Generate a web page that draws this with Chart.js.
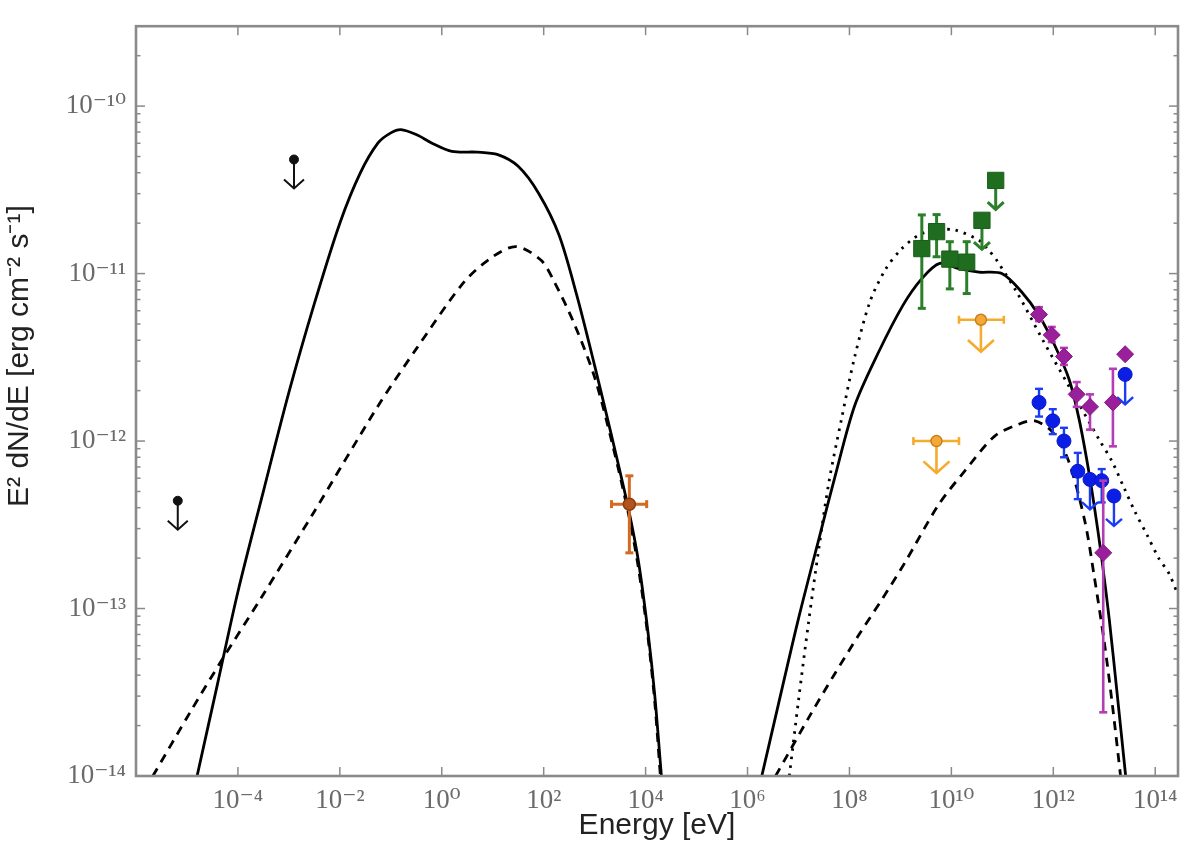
<!DOCTYPE html>
<html>
<head>
<meta charset="utf-8">
<script src="https://cdn.jsdelivr.net/npm/chart.js@4.4.0/dist/chart.umd.min.js"></script>
<style>
  html, body { margin: 0; padding: 0; background: #fff; }
  #wrap { width: 1200px; height: 854px; }
</style>
</head>
<body>
<div id="wrap"><canvas id="sed"></canvas></div>
<script>
// axis ticks
const xTickVals = [1e-4, 1e-2, 1e0, 1e2, 1e4, 1e6, 1e8, 1e10, 1e12, 1e14];
const xTickLabels = ['10⁻⁴', '10⁻²', '10⁰', '10²', '10⁴', '10⁶', '10⁸', '10¹⁰', '10¹²', '10¹⁴'];
const yTickVals = [1e-14, 1e-13, 1e-12, 1e-11, 1e-10];
const yTickLabels = ['10⁻¹⁴', '10⁻¹³', '10⁻¹²', '10⁻¹¹', '10⁻¹⁰'];

// model curves (energy in eV, E^2 dN/dE in erg cm^-2 s^-1)
const syncTotE = [1.58e-5, 3.98e-5, 1e-4, 3.16e-4, 1e-3, 3.16e-3, 1e-2, 2.51e-2, 5.62e-2, 0.1, 0.158, 0.316, 0.631, 1.585, 5.01, 12.6, 31.6, 79.4, 200, 447, 1000, 2239, 4571, 7244, 11220, 15140, 20420];
const syncTotF = [1e-14, 3.55e-14, 1.26e-13, 5.01e-13, 1.95e-12, 6.61e-12, 2.0e-11, 3.98e-11, 6.03e-11, 6.92e-11, 7.24e-11, 6.76e-11, 6.03e-11, 5.37e-11, 5.31e-11, 5.13e-11, 4.37e-11, 3.02e-11, 1.70e-11, 7.41e-12, 2.82e-12, 1.02e-12, 3.98e-13, 1.91e-13, 7.08e-14, 3.02e-14, 1e-14];

const syncDashE = [2.14e-6, 1.2e-5, 5.01e-5, 2.82e-4, 3.16e-3, 5.62e-2, 0.316, 2.75, 10, 28.8, 89.1, 162, 398, 1000, 2239, 4571, 7244, 11220, 15140, 19500];
const syncDashF = [1e-14, 2.45e-14, 5.01e-14, 1.15e-13, 3.8e-13, 1.62e-12, 3.55e-12, 8.91e-12, 1.26e-11, 1.45e-11, 1.2e-11, 8.91e-12, 5.01e-12, 2.4e-12, 9.55e-13, 3.72e-13, 1.74e-13, 6.61e-14, 2.75e-14, 1e-14];

const gammaTotE = [1.905e6, 3.98e6, 1e7, 2.69e7, 5.13e7, 1.26e8, 3.72e8, 1.12e9, 2.63e9, 5.89e9, 1.41e10, 3.47e10, 9.77e10, 2.4e11, 5.25e11, 1.07e12, 2.04e12, 3.16e12, 4.47e12, 6.31e12, 8.91e12, 1.26e13, 1.78e13, 2.63e13];
const gammaTotF = [1e-14, 2.63e-14, 8.71e-14, 2.82e-13, 6.03e-13, 1.62e-12, 3.39e-12, 6.46e-12, 9.33e-12, 1.15e-11, 1.07e-11, 1.02e-11, 1.0e-11, 7.76e-12, 5.62e-12, 3.72e-12, 2.34e-12, 1.38e-12, 7.94e-13, 4.17e-13, 2.0e-13, 8.51e-14, 3.16e-14, 1e-14];

const gammaDotE = [6.61e6, 1e7, 1.58e7, 2.51e7, 3.98e7, 7.08e7, 1.26e8, 2.51e8, 5.01e8, 1e9, 2.29e9, 5.01e9, 1.17e10, 3.47e10, 5.37e10, 7.76e10, 2.0e11, 6.31e11, 2.0e12, 7.94e12, 1.41e13, 2.45e13, 3.98e13, 6.92e13, 1.17e14, 1.86e14, 2.82e14];
const gammaDotF = [1e-14, 2.82e-14, 8.32e-14, 2.29e-13, 5.75e-13, 1.38e-12, 3.16e-12, 6.76e-12, 1.05e-11, 1.38e-11, 1.7e-11, 1.82e-11, 1.82e-11, 1.58e-11, 1.38e-11, 1.2e-11, 7.59e-12, 3.98e-12, 2.14e-12, 1.02e-12, 7.59e-13, 5.25e-13, 3.8e-13, 2.75e-13, 2.0e-13, 1.62e-13, 1.2e-13];

const gammaDashE = [3.55e6, 1.74e7, 5.13e7, 1.51e8, 4.47e8, 1.2e9, 5.62e9, 1.82e10, 7.08e10, 2.09e11, 4.37e11, 1e12, 2e12, 4.17e12, 6.31e12, 1e13, 1.41e13, 2.09e13];
const gammaDashF = [1e-14, 2.34e-14, 4.07e-14, 6.92e-14, 1.15e-13, 1.86e-13, 4.17e-13, 6.61e-13, 1.07e-12, 1.26e-12, 1.32e-12, 1.12e-12, 7.59e-13, 3.31e-13, 1.58e-13, 6.31e-14, 2.82e-14, 1e-14];

// measurements
const radioE = [6.6e-6, 1.26e-3];
const radioF = [4.4e-13, 4.8e-11];

const xrayE = [4.8e3];
const xrayF = [4.2e-13];
const xrayELo = [2.14e3];
const xrayEHi = [1.05e4];
const xrayFLo = [2.15e-13];
const xrayFHi = [6.2e-13];

const ulE = [5.1e9, 3.8e10];
const ulF = [1.0e-12, 5.3e-12];
const ulELo = [1.8e9, 1.41e10];
const ulEHi = [1.41e10, 1.07e11];

const fermiE = [2.63e9, 5.13e9, 9.33e9, 2.0e10, 3.98e10, 7.41e10];
const fermiF = [1.41e-11, 1.78e-11, 1.22e-11, 1.17e-11, 2.08e-11, 3.6e-11];
const fermiFLo = [6.2e-12, 1.26e-11, 8.1e-12, 7.6e-12, null, null];
const fermiFHi = [2.24e-11, 2.25e-11, 1.55e-11, 1.55e-11, null, null];
const fermiUL = [false, false, false, false, true, true];

const hessE = [5.25e11, 9.33e11, 1.62e12, 2.88e12, 5.25e12, 9.55e12, 1.48e13, 2.57e13];
const hessF = [5.7e-12, 4.3e-12, 3.2e-12, 1.9e-12, 1.6e-12, 2.15e-13, 1.7e-12, 3.3e-12];
const hessFLo = [5.2e-12, 3.9e-12, 2.85e-12, 1.6e-12, 1.17e-12, 2.4e-14, 9.3e-13, null];
const hessFHi = [6.3e-12, 4.8e-12, 3.6e-12, 2.25e-12, 1.9e-12, 5.8e-13, 2.7e-12, null];

const veritasE = [5.25e11, 9.77e11, 1.62e12, 3.02e12, 5.25e12, 8.91e12, 1.55e13, 2.57e13];
const veritasF = [1.7e-12, 1.32e-12, 1.0e-12, 6.6e-13, 5.9e-13, 5.8e-13, 4.7e-13, 2.5e-12];
const veritasFLo = [1.4e-12, 1.1e-12, 8.0e-13, 4.5e-13, null, 4.3e-13, null, null];
const veritasFHi = [2.05e-12, 1.55e-12, 1.2e-12, 8.5e-13, null, 6.8e-13, null, null];
const veritasUL = [false, false, false, false, true, false, true, true];

const pts = (xs, ys) => xs.map((x, i) => ({ x: x, y: ys[i] }));

function curve(xs, ys, dash) {
  return {
    type: 'line',
    data: pts(xs, ys),
    borderColor: '#000',
    borderWidth: 2.8,
    borderDash: dash,
    borderCapStyle: 'butt',
    pointRadius: 0,
    tension: 0.3,
    fill: false,
    order: 2
  };
}

// error bars and upper-limit arrows, drawn just under each dataset's markers
const errorBars = {
  id: 'errorBars',
  beforeDatasetDraw(chart, args) {
    const ds = chart.data.datasets[args.index];
    const e = ds.err;
    if (!e) return;
    const ctx = chart.ctx;
    const xs = chart.scales.x, ys = chart.scales.y;
    ctx.save();
    ctx.strokeStyle = e.color;
    ctx.lineWidth = e.width;
    ctx.lineCap = 'butt';
    const seg = (x1, y1, x2, y2) => { ctx.beginPath(); ctx.moveTo(x1, y1); ctx.lineTo(x2, y2); ctx.stroke(); };
    ds.data.forEach((p, i) => {
      const px = xs.getPixelForValue(p.x), py = ys.getPixelForValue(p.y);
      if (e.yLo && e.yLo[i] != null) {
        const a = ys.getPixelForValue(e.yLo[i]), b = ys.getPixelForValue(e.yHi[i]);
        seg(px, a, px, b);
        seg(px - e.cap, a, px + e.cap, a);
        seg(px - e.cap, b, px + e.cap, b);
      }
      if (e.xLo && e.xLo[i] != null) {
        const a = xs.getPixelForValue(e.xLo[i]), b = xs.getPixelForValue(e.xHi[i]);
        seg(a, py, b, py);
        seg(a, py - e.cap, a, py + e.cap);
        seg(b, py - e.cap, b, py + e.cap);
      }
      if (e.ul === true || (e.ul && e.ul[i])) {
        const tip = py + e.len;
        seg(px, py, px, tip);
        ctx.beginPath();
        ctx.moveTo(px - e.head, tip - e.head * 0.9);
        ctx.lineTo(px, tip);
        ctx.lineTo(px + e.head, tip - e.head * 0.9);
        ctx.stroke();
      }
    });
    ctx.restore();
  }
};

// matplotlib-like frame with inward ticks on all four sides
const frameTicks = {
  id: 'frameTicks',
  afterDraw(chart) {
    const ctx = chart.ctx, a = chart.chartArea;
    const xs = chart.scales.x, ys = chart.scales.y;
    ctx.save();
    ctx.strokeStyle = '#8a8a8a';
    ctx.lineWidth = 1.5;
    const seg = (x1, y1, x2, y2) => { ctx.beginPath(); ctx.moveTo(x1, y1); ctx.lineTo(x2, y2); ctx.stroke(); };
    xTickVals.forEach(v => {
      const px = xs.getPixelForValue(v);
      seg(px, a.bottom, px, a.bottom - 9);
      seg(px, a.top, px, a.top + 9);
    });
    for (let d = -14; d <= -10; d++) {
      for (let m = 1; m <= 9; m++) {
        const v = m * Math.pow(10, d);
        if (v > ys.max) break;
        const py = ys.getPixelForValue(v);
        const len = m === 1 ? 9 : 4.5;
        seg(a.left, py, a.left + len, py);
        seg(a.right, py, a.right - len, py);
      }
    }
    ctx.lineWidth = 2.6;
    ctx.strokeRect(a.left, a.top, a.right - a.left, a.bottom - a.top);
    ctx.restore();
  }
};

const tickFont = { family: '"Liberation Serif", "DejaVu Serif", serif', size: 27 };
const titleFont = { family: '"Liberation Sans", Arial, sans-serif', size: 30 };

new Chart(document.getElementById('sed'), {
  type: 'scatter',
  data: {
    datasets: [
      {
        data: pts(radioE, radioF),
        pointStyle: 'circle', pointRadius: 4.5,
        backgroundColor: '#111', borderColor: '#111', borderWidth: 1,
        err: { color: '#111', width: 2, cap: 0, ul: true, len: 29, head: 10 },
        order: 0
      },
      {
        data: pts(xrayE, xrayF),
        pointStyle: 'circle', pointRadius: 6,
        backgroundColor: '#b4521c', borderColor: '#8c3c12', borderWidth: 1.5,
        err: { color: '#d26a22', width: 3, cap: 4, xLo: xrayELo, xHi: xrayEHi, yLo: xrayFLo, yHi: xrayFHi },
        order: 0
      },
      {
        data: pts(ulE, ulF),
        pointStyle: 'circle', pointRadius: 5.5,
        backgroundColor: '#f2a83a', borderColor: '#c98018', borderWidth: 1.5,
        err: { color: '#f5ab2e', width: 2.6, cap: 4, xLo: ulELo, xHi: ulEHi, ul: true, len: 32, head: 13 },
        order: 0
      },
      {
        data: pts(fermiE, fermiF),
        pointStyle: 'rect', pointRadius: 11.5,
        backgroundColor: '#1f6e1f', borderColor: '#1a5e1a', borderWidth: 1,
        err: { color: '#2b7f2b', width: 3, cap: 4, yLo: fermiFLo, yHi: fermiFHi, ul: fermiUL, len: 29, head: 8 },
        order: 0
      },
      {
        data: pts(hessE, hessF),
        pointStyle: 'rectRot', pointRadius: 8.5,
        backgroundColor: '#9a1f9a', borderColor: '#861a86', borderWidth: 1,
        err: { color: '#b43cb4', width: 2.6, cap: 4, yLo: hessFLo, yHi: hessFHi },
        order: 0
      },
      {
        data: pts(veritasE, veritasF),
        pointStyle: 'circle', pointRadius: 7,
        backgroundColor: '#0a1ee6', borderColor: '#0a18c0', borderWidth: 1,
        err: { color: '#1a3cf5', width: 2.4, cap: 4, yLo: veritasFLo, yHi: veritasFHi, ul: veritasUL, len: 30, head: 8 },
        order: 0
      },
      curve(syncTotE, syncTotF, []),
      curve(syncDashE, syncDashF, [9, 7]),
      curve(gammaTotE, gammaTotF, []),
      curve(gammaDotE, gammaDotF, [2.5, 6]),
      curve(gammaDashE, gammaDashF, [9, 7])
    ]
  },
  options: {
    responsive: true,
    maintainAspectRatio: false,
    animation: false,
    layout: { padding: { top: 23, right: 22, left: 0, bottom: 0 } },
    plugins: { legend: { display: false }, tooltip: { enabled: false } },
    scales: {
      x: {
        type: 'logarithmic',
        min: 1e-6,
        max: 2.8e14,
        grid: { display: false, drawTicks: false },
        border: { display: false },
        afterBuildTicks: s => { s.ticks = xTickVals.map(v => ({ value: v })); },
        afterFit: s => { s.height = 78; },
        ticks: {
          autoSkip: false, maxRotation: 0, padding: 9,
          color: '#6a6a6a', font: tickFont,
          callback: (v, i) => xTickLabels[i]
        },
        title: {
          display: true, text: 'Energy [eV]', color: '#222',
          font: titleFont,
          padding: { top: 0, bottom: 10 }
        }
      },
      y: {
        type: 'logarithmic',
        min: 1e-14,
        max: 3e-10,
        grid: { display: false, drawTicks: false },
        border: { display: false },
        afterBuildTicks: s => { s.ticks = yTickVals.map(v => ({ value: v })); },
        afterFit: s => { s.width = 136; },
        ticks: {
          autoSkip: false, padding: 10,
          color: '#6a6a6a', font: tickFont,
          callback: (v, i) => yTickLabels[i]
        },
        title: {
          display: true, text: '\u2003\u2003\u2003E² dN/dE [erg cm⁻² s⁻¹]', color: '#222',
          font: titleFont,
          padding: { top: 2, bottom: 0 }
        }
      }
    }
  },
  plugins: [errorBars, frameTicks]
});
</script>
</body>
</html>
